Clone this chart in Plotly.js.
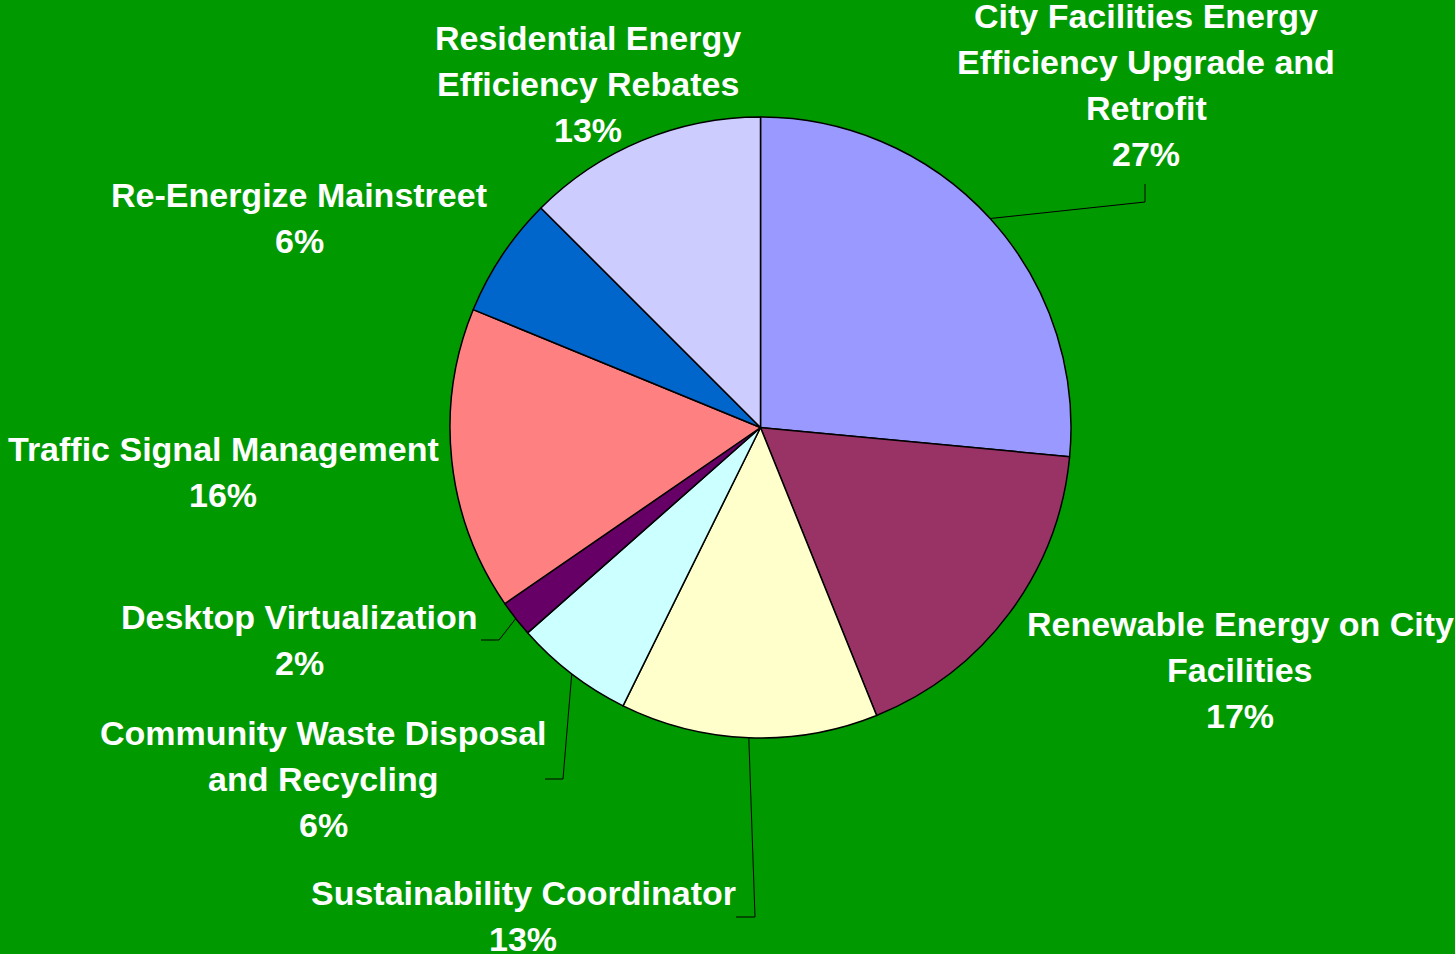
<!DOCTYPE html>
<html>
<head>
<meta charset="utf-8">
<script src="https://cdn.plot.ly/plotly-3.0.1.min.js"></script>
<style>
html,body{margin:0;padding:0;background:#009900;}
#chart{width:1455px;height:954px;}
</style>
</head>
<body>
<div id="chart"></div>
<script>
// ---- data ----
const categories = [
  "City Facilities Energy Efficiency Upgrade and Retrofit",
  "Renewable Energy on City Facilities",
  "Sustainability Coordinator",
  "Community Waste Disposal and Recycling",
  "Desktop Virtualization",
  "Traffic Signal Management",
  "Re-Energize Mainstreet",
  "Residential Energy Efficiency Rebates"
];
const values = [26.5, 17.4, 13.4, 6.2, 1.9, 15.8, 6.3, 12.5];
const labelLines = [
  ["City Facilities Energy", "Efficiency Upgrade and", "Retrofit"],
  ["Renewable Energy on City", "Facilities"],
  ["Sustainability Coordinator"],
  ["Community Waste Disposal", "and Recycling"],
  ["Desktop Virtualization"],
  ["Traffic Signal Management"],
  ["Re-Energize Mainstreet"],
  ["Residential Energy", "Efficiency Rebates"]
];
const colors = ["#9999FF", "#993366", "#FFFFCC", "#CCFFFF", "#660066", "#FF8080", "#0066CC", "#CCCCFF"];

// ---- layout helpers (pixel placement of labels) ----
const W = 1455, H = 954;
const cx = 760.5, cy = 427.5, R = 310.5;
const labelPos = [[1146, 16], [1240, 624], [523, 893], [323, 733], [299, 617], [223, 449], [299, 195], [588, 38]];
const lineGap = 46;
// elbow points of leader lines (null = no leader line)
const leaderElbows = [
  [[1145, 202], [1145, 184]],
  null,
  [[755, 917], [736, 917]],
  [[563, 779], [545, 779]],
  [[499, 640], [481, 640]],
  null, null, null
];

const px = x => x / W;
const py = y => 1 - y / H;

const total = values.reduce((a, b) => a + b, 0);
const annotations = [];
const shapes = [];
let cum = 0;
values.forEach((v, i) => {
  const mid = (cum + v / 2) / total * 2 * Math.PI;
  cum += v;
  const lines = labelLines[i].concat([Math.round(v / total * 100) + "%"]);
  lines.forEach((t, k) => {
    annotations.push({
      x: px(labelPos[i][0]), y: py(labelPos[i][1] + k * lineGap),
      xref: "paper", yref: "paper", xanchor: "center", yanchor: "middle",
      text: t, showarrow: false,
      font: {family: "Liberation Sans, Arial, sans-serif", size: 34, color: "#FFFFFF", weight: "bold"}
    });
  });
  if (leaderElbows[i]) {
    const ex = cx + R * Math.sin(mid), ey = cy - R * Math.cos(mid);
    const pts = [[ex, ey]].concat(leaderElbows[i]);
    const path = pts.map((p, k) => (k ? "L" : "M") + px(p[0]) + "," + py(p[1])).join(" ");
    shapes.push({type: "path", xref: "paper", yref: "paper", path: path,
      line: {color: "#000000", width: 1}});
  }
});

const trace = {
  type: "pie",
  labels: categories,
  values: values,
  sort: false,
  direction: "clockwise",
  rotation: 0,
  textinfo: "none",
  hoverinfo: "label+percent",
  marker: {colors: colors, line: {color: "#000000", width: 1.5}},
  domain: {x: [px(cx - R), px(cx + R)], y: [py(cy + R), py(cy - R)]},
  showlegend: false
};

const layout = {
  width: W, height: H,
  margin: {l: 0, r: 0, t: 0, b: 0},
  paper_bgcolor: "#009900",
  plot_bgcolor: "#009900",
  showlegend: false,
  annotations: annotations,
  shapes: shapes
};

Plotly.newPlot("chart", [trace], layout, {displayModeBar: false, staticPlot: true});
</script>
</body>
</html>
